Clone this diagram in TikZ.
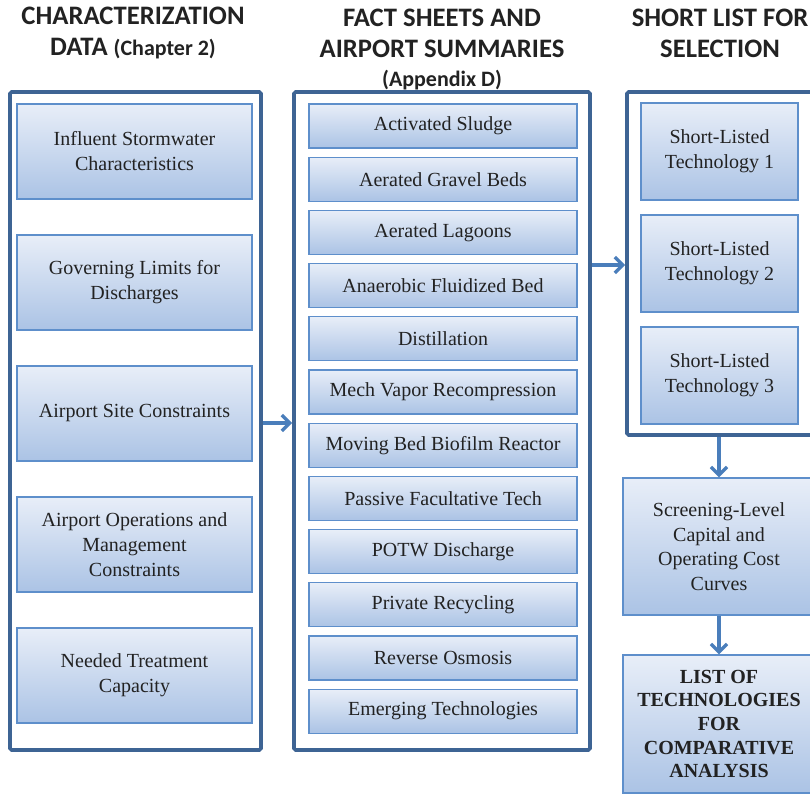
\documentclass[tikz,border=0pt]{standalone}
\usepackage{fontspec}
\setmainfont{Liberation Serif}
\newfontfamily\headfont{Carlito}
\usetikzlibrary{arrows.meta,shadings}
\definecolor{frameblue}{HTML}{3E6494}
\definecolor{edgeblue}{HTML}{5E8FCB}
\definecolor{arrowblue}{HTML}{4A7EBB}
\definecolor{topfill}{HTML}{E8EEF8}
\definecolor{botfill}{HTML}{ABC3E5}
\definecolor{inktext}{HTML}{222222}
\tikzset{
  frame/.style={draw=frameblue, line width=2.7pt, rounded corners=1.2pt, inner sep=0pt},
  cell/.style={draw=edgeblue, line width=1pt, top color=topfill, bottom color=botfill,
    shading angle=0, inner sep=0pt, align=center, text=inktext,
    font=\fontsize{15pt}{18.8pt}\selectfont},
  head/.style={align=center, text=inktext, font=\headfont\bfseries\fontsize{20pt}{23.3pt}\selectfont},
  flow/.style={draw=arrowblue, line width=2.7pt,
    -{Straight Barb[length=6pt,width=12pt,line width=2.5pt]}},
  box/.style 2 args={minimum width=#1*0.75pt, minimum height=#2*0.75pt},
}
\begin{document}
\begin{tikzpicture}[x=0.75pt,y=-0.75pt]
\clip (0,0) rectangle (810,795);
\fill[white] (0,0) rectangle (810,795);

% column headings
\node[head] (h1) at (133,33) {CHARACTERIZATION\\DATA {\fontsize{16.5pt}{23pt}\selectfont(Chapter 2)}};
\node[head] (h2) at (442,33) {FACT SHEETS AND\\AIRPORT SUMMARIES};
\node[head, font=\headfont\bfseries\fontsize{16.5pt}{18pt}\selectfont] (h2b) at (442,80) {(Appendix D)};
\node[head] (h3) at (720,33) {SHORT LIST FOR\\SELECTION};

% outer frames
\node[frame, box={251}{658}] (fa) at (135.5,421) {};
\node[frame, box={296}{658}] (fb) at (442,421) {};
\node[frame, box={200}{343}] (fc) at (727,263.5) {};

% characterization data
\foreach \y/\t [count=\i] in {151.5/{Influent Stormwater\\Characteristics},
  282.5/{Governing Limits for\\Discharges},
  413.5/{Airport Site Constraints},
  544.5/{Airport Operations and\\Management\\Constraints},
  675.5/{Needed Treatment\\Capacity}}
  \node[cell, box={235}{95}] (a\i) at (134.5,\y) {\t};

% fact sheets
\foreach \t [count=\i] in {Activated Sludge, Aerated Gravel Beds, Aerated Lagoons,
  Anaerobic Fluidized Bed, Distillation, Mech Vapor Recompression,
  Moving Bed Biofilm Reactor, Passive Facultative Tech, POTW Discharge,
  Private Recycling, Reverse Osmosis, Emerging Technologies}
  \node[cell, box={268}{44}] (b\i) at (443,{126+53.2*(\i-1)}) {\t};

% short list
\foreach \t [count=\i] in {1,2,3}
  \node[cell, box={157}{97}] (c\i) at (719.5,{151.5+112*(\i-1)}) {Short-Listed\\Technology \t};

% cost curves and final list
\node[cell, box={192}{137}, font=\fontsize{15pt}{18.5pt}\selectfont] (d) at (719,546.5) {Screening-Level\\Capital and\\Operating Cost\\Curves};
\node[cell, box={192}{138}, font=\bfseries\fontsize{15pt}{17.8pt}\selectfont] (e) at (719,724)
  {LIST OF\\TECHNOLOGIES\\FOR\\COMPARATIVE\\ANALYSIS};

% connectors
\draw[flow] (fa.east |- 0,423) -- (fb.west |- 0,423);
\draw[flow] (fb.east |- 0,265) -- (fc.west |- 0,265);
\draw[flow] (fc.south -| d.north) -- (d.north);
\draw[flow] (d.south) -- (e.north);
\end{tikzpicture}
\end{document}
